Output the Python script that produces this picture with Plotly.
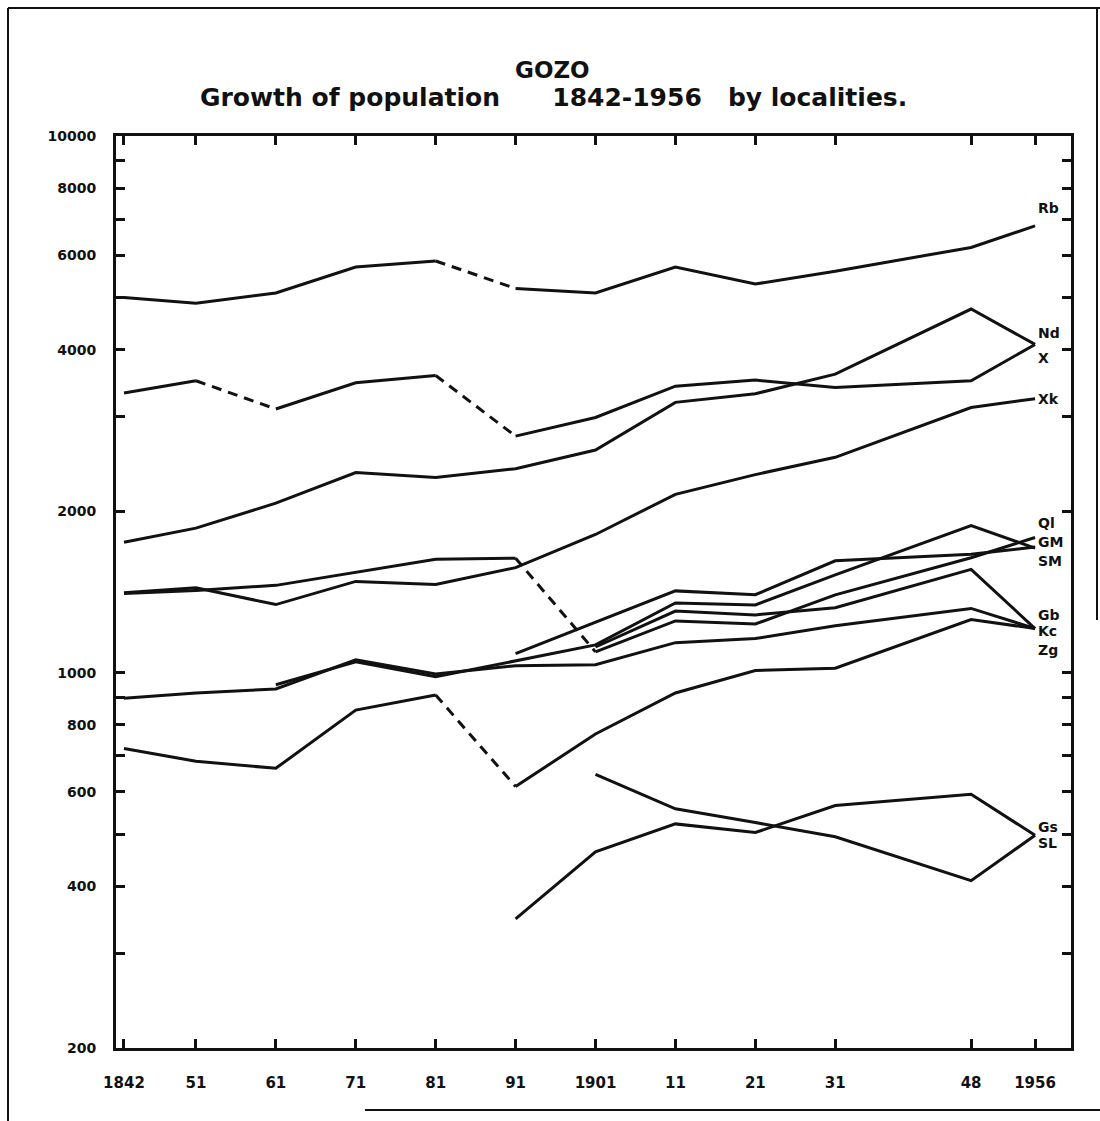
import math
import plotly.graph_objects as go

# Census years and the labels printed under the axis
years = [1842, 1851, 1861, 1871, 1881, 1891, 1901, 1911, 1921, 1931, 1948, 1956]
year_labels = ["1842", "51", "61", "71", "81", "91", "1901", "11", "21", "31", "48", "1956"]

# Population by locality (None = not enumerated separately that year)
rb = [5000, 4880, 5100, 5700, 5850, 5200, 5100, 5700, 5300, 5600, 6200, 6800]
nd = [1750, 1860, 2070, 2360, 2310, 2400, 2600, 3190, 3310, 3600, 4760, 4090]
xa = [3320, 3500, 3100, 3470, 3580, 2760, 2990, 3420, 3510, 3400, 3500, 4090]
xk = [1410, 1440, 1340, 1480, 1460, 1570, 1810, 2150, 2340, 2520, 3120, 3240]
ql = [1405, 1424, 1455, 1539, 1628, 1635, 1094, 1249, 1233, 1397, 1638, 1787]
gm = [None, None, 950, 1048, 983, 1054, 1127, 1349, 1338, 1522, 1881, 1707]
sm = [None, None, None, None, None, 1086, 1244, 1421, 1398, 1617, 1662, 1715]
gb = [None, None, None, None, None, None, 1117, 1303, 1282, 1322, 1558, 1209]
kc = [897, 917, 933, 1057, 995, 1031, 1035, 1138, 1158, 1224, 1318, 1209]
zg = [723, 684, 664, 852, 909, 614, 769, 917, 1010, 1020, 1257, 1209]
gs = [None, None, None, None, None, 348, 464, 523, 504, 566, 594, 498]
sl = [None, None, None, None, None, None, 647, 558, 526, 495, 410, 498]

series = {"Rb": rb, "Nd": nd, "X": xa, "Xk": xk, "Ql": ql, "GM": gm,
          "SM": sm, "Gb": gb, "Kc": kc, "Zg": zg, "Gs": gs, "SL": sl}

# Intervals drawn broken (boundary changes), keyed by the census that starts them
dashed_from = {"Rb": [1881], "X": [1851, 1881], "Ql": [1891], "Zg": [1881]}

# Locality labels at the right-hand end
label_names = ["Rb", "Nd", "X", "Xk", "Ql", "GM", "SM", "Gb", "Kc", "Zg", "Gs", "SL"]
label_levels = [7330, 4300, 3860, 3240, 1900, 1750, 1615, 1280, 1195, 1105, 516, 481]

y_tickvals = [200, 300, 400, 500, 600, 700, 800, 900,
              1000, 2000, 3000, 4000, 5000, 6000, 7000, 8000, 9000, 10000]
y_ticktext = ["200", "", "400", "", "600", "", "800", "",
              "1000", "2000", "", "4000", "", "6000", "", "8000", "", "10000"]

W, H = 1100, 1121
L_M, R_M, T_M, B_M = 116, 29, 136, 73
PW, PH = W - L_M - R_M, H - T_M - B_M


def px(xp):
    return (xp - L_M) / PW


def py(yp):
    return (H - B_M - yp) / PH


fig = go.Figure()

ink = "#111111"
for name, vals in series.items():
    breaks = dashed_from.get(name, [])
    runs = []
    for i in range(len(years) - 1):
        if vals[i] is None or vals[i + 1] is None:
            continue
        style = "dash" if years[i] in breaks else "solid"
        if runs and runs[-1][0] == style and runs[-1][2] == i:
            runs[-1][2] = i + 1
        else:
            runs.append([style, i, i + 1])
    for style, a, b in runs:
        fig.add_trace(go.Scatter(
            x=years[a:b + 1], y=vals[a:b + 1], mode="lines",
            line=dict(color=ink, width=3,
                      dash="10px,7px" if style == "dash" else "solid"),
            hoverinfo="skip", showlegend=False))

fig.update_xaxes(
    range=[1841.0, 1960.5], tickmode="array", tickvals=years, ticktext=year_labels,
    ticks="inside", ticklen=9, tickwidth=2.5, tickcolor=ink,
    showline=True, linewidth=3, linecolor=ink, mirror="ticks",
    showgrid=False, zeroline=False, ticklabelstandoff=19,
    tickfont=dict(family="DejaVu Sans", size=15, color=ink, weight="bold"))

fig.update_yaxes(
    type="log", range=[math.log10(200), 4], tickmode="array",
    tickvals=y_tickvals, ticktext=y_ticktext,
    ticks="inside", ticklen=9, tickwidth=2.5, tickcolor=ink,
    showline=True, linewidth=3, linecolor=ink, mirror="ticks",
    showgrid=False, zeroline=False, ticklabelstandoff=14,
    tickfont=dict(family="DejaVu Sans", size=14, color=ink, weight="bold"))

# reference line at 1000 inhabitants
fig.add_shape(type="line", xref="paper", x0=0, x1=1, yref="y",
              y0=3, y1=3, line=dict(color=ink, width=2.5))

for name, lvl in zip(label_names, label_levels):
    fig.add_annotation(x=1956, y=math.log10(lvl), xref="x", yref="y",
                       text=name, showarrow=False, xanchor="left",
                       yanchor="middle", xshift=1,
                       font=dict(family="DejaVu Sans", size=14, color=ink,
                                 weight="bold"))

fig.add_annotation(x=px(552), y=py(70), xref="paper", yref="paper",
                   xanchor="center", yanchor="middle",
                   text="GOZO", showarrow=False,
                   font=dict(family="DejaVu Sans", size=23, color=ink,
                             weight="bold"))
fig.add_annotation(x=px(553), y=py(98), xref="paper", yref="paper",
                   xanchor="center", yanchor="middle",
                   text="Growth of population      1842-1956   by localities.",
                   showarrow=False,
                   font=dict(family="DejaVu Sans", size=25, color=ink,
                             weight="bold"))

# sheet edges
edge = dict(color=ink, width=2)
fig.add_shape(type="line", xref="paper", yref="paper",
              x0=px(8), x1=px(8), y0=py(8), y1=py(1121), line=edge)
fig.add_shape(type="line", xref="paper", yref="paper",
              x0=px(8), x1=px(1100), y0=py(8), y1=py(8), line=edge)
fig.add_shape(type="line", xref="paper", yref="paper",
              x0=px(1097), x1=px(1097), y0=py(8), y1=py(620), line=edge)
fig.add_shape(type="line", xref="paper", yref="paper",
              x0=px(365), x1=px(1100), y0=py(1110), y1=py(1110), line=edge)

fig.update_layout(width=W, height=H,
                  margin=dict(l=L_M, r=R_M, t=T_M, b=B_M),
                  plot_bgcolor="white", paper_bgcolor="white",
                  showlegend=False)

fig.write_html("out.html")
